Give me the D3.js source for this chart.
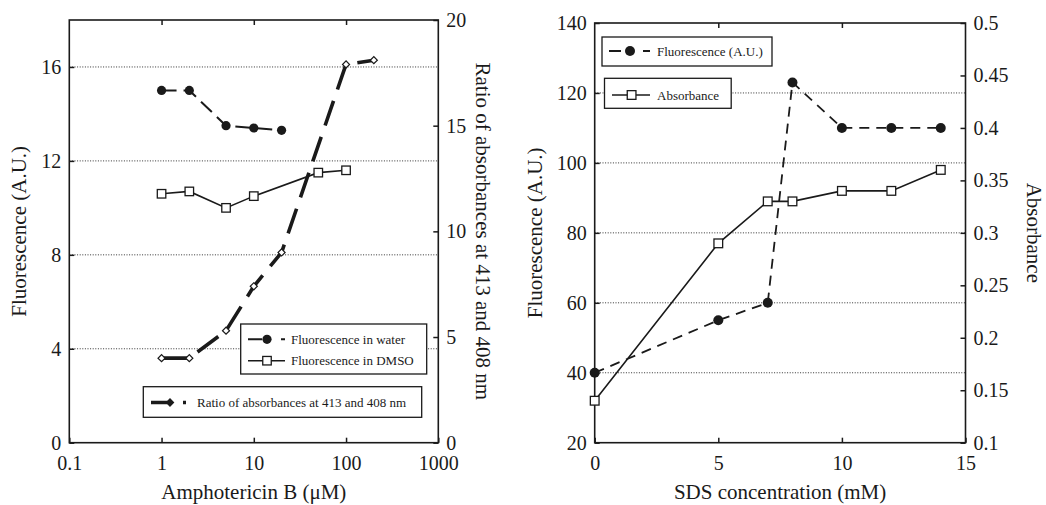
<!DOCTYPE html>
<html>
<head>
<meta charset="utf-8">
<script src="https://cdn.jsdelivr.net/npm/d3@7"></script>
</head>
<body style="margin:0">
<script>

// left panel: amphotericin B
const ampWaterConc = [1, 2, 5, 10, 20];
const ampWaterFluor = [15.0, 15.0, 13.5, 13.4, 13.3];
const ampDmsoConc = [1, 2, 5, 10, 50, 100];
const ampDmsoFluor = [10.6, 10.7, 10.0, 10.5, 11.5, 11.6];
const ampRatioConc = [1, 2, 5, 10, 20, 100, 200];
const ampRatio = [4.0, 4.0, 5.3, 7.4, 9.0, 17.9, 18.1];
const ampXTicks = [0.1, 1, 10, 100, 1000];
const ampYTicks = [0, 4, 8, 12, 16];
const ampY2Ticks = [0, 5, 10, 15, 20];

// right panel: SDS
const sdsConc = [0, 5, 7, 8, 10, 12, 14];
const sdsFluor = [40, 55, 60, 123, 110, 110, 110];
const sdsAbs = [0.14, 0.29, 0.33, 0.33, 0.34, 0.34, 0.36];
const sdsXTicks = [0, 5, 10, 15];
const sdsYTicks = [20, 40, 60, 80, 100, 120, 140];
const sdsY2Ticks = [0.1, 0.15, 0.2, 0.25, 0.3, 0.35, 0.4, 0.45, 0.5];

const ink = "#1a1a1a";
const fmt = d3.format("~g");

const svg = d3.select("body").append("svg")
    .attr("width", 1046)
    .attr("height", 505)
    .style("display", "block");

// draws grid, ticks, labels and the box round a panel
function drawFrame(x, yL, yR, o) {
    const [x0, x1] = x.range();
    const [b, t] = yL.range();
    let g = svg.append("g");

    g.selectAll(".grid")
        .data(o.grid)
        .join("line")
        .attr("class", "grid")
        .attr("x1", x0).attr("x2", x1)
        .attr("y1", d => yL(d)).attr("y2", d => yL(d))
        .attr("stroke", "#333")
        .attr("stroke-width", 1)
        .attr("stroke-dasharray", "1,1.6");

    g.append("g").attr("class", "axis")
        .attr("transform", `translate(0,${b})`)
        .call(d3.axisBottom(x).tickValues(o.xTicks).tickSize(-5).tickPadding(13).tickFormat(fmt))
        .call(a => a.select(".domain").remove());

    g.append("g").attr("class", "axis")
        .attr("transform", `translate(0,${t})`)
        .call(d3.axisTop(x).tickValues(o.topTicks).tickSize(-5).tickFormat(""))
        .call(a => a.select(".domain").remove());

    g.append("g").attr("class", "axis")
        .attr("transform", `translate(${x0},0)`)
        .call(d3.axisLeft(yL).tickValues(o.yTicks).tickSize(-5).tickPadding(8).tickFormat(fmt))
        .call(a => a.select(".domain").remove());

    g.append("g").attr("class", "axis")
        .attr("transform", `translate(${x1},0)`)
        .call(d3.axisRight(yR).tickValues(o.y2Ticks).tickSize(-5).tickPadding(8).tickFormat(fmt))
        .call(a => a.select(".domain").remove());

    g.selectAll(".axis")
        .attr("font-family", null)
        .attr("font-size", null);
    g.selectAll(".axis text").style("font-size", "20px").attr("fill", ink);
    g.selectAll(".axis line").attr("stroke", ink).attr("stroke-width", 1.5);

    g.append("rect")
        .attr("x", x0).attr("y", t)
        .attr("width", x1 - x0).attr("height", b - t)
        .attr("fill", "none")
        .attr("stroke", ink)
        .attr("stroke-width", 1.6);

    // axis titles
    g.append("text").attr("class", "title")
        .attr("x", (x0 + x1) / 2).attr("y", 499)
        .attr("text-anchor", "middle")
        .text(o.xTitle);

    g.append("text").attr("class", "title")
        .attr("transform", `translate(${o.yTitleX},${(b + t) / 2}) rotate(-90)`)
        .attr("text-anchor", "middle")
        .text(o.yTitle);

    g.append("text").attr("class", "title")
        .attr("transform", `translate(${o.y2TitleX},${(b + t) / 2}) rotate(90)`)
        .attr("text-anchor", "middle")
        .text(o.y2Title);

    g.selectAll(".title").style("font-size", "21px").attr("fill", ink);
}

function drawSeries(xs, ys, x, y, style) {
    let pts = d3.zip(xs, ys);
    let line = d3.line().x(d => x(d[0])).y(d => y(d[1]));

    svg.append("path")
        .datum(pts)
        .attr("d", line)
        .attr("fill", "none")
        .attr("stroke", ink)
        .attr("stroke-width", style.width)
        .attr("stroke-dasharray", style.dash || null);

    drawMarkers(pts.map(d => [x(d[0]), y(d[1])]), style);
}

function drawMarkers(pts, style) {
    let g = svg.append("g");
    if (style.marker === "circle") {
        g.selectAll("circle").data(pts).join("circle")
            .attr("cx", d => d[0]).attr("cy", d => d[1])
            .attr("r", style.size)
            .attr("fill", ink);
    } else if (style.marker === "square") {
        g.selectAll("rect").data(pts).join("rect")
            .attr("x", d => d[0] - style.size / 2).attr("y", d => d[1] - style.size / 2)
            .attr("width", style.size).attr("height", style.size)
            .attr("fill", "#fff").attr("stroke", ink).attr("stroke-width", 1.3);
    } else {
        g.selectAll("path").data(pts).join("path")
            .attr("d", d3.symbol(d3.symbolSquare, style.size * style.size))
            .attr("transform", d => `translate(${d[0]},${d[1]}) rotate(45)`)
            .attr("fill", style.fill || "#fff").attr("stroke", ink).attr("stroke-width", 1.2);
    }
}

function legendBox(x0, y0, x1, y1) {
    svg.append("rect")
        .attr("x", x0).attr("y", y0)
        .attr("width", x1 - x0).attr("height", y1 - y0)
        .attr("fill", "#fff")
        .attr("stroke", ink)
        .attr("stroke-width", 1.3);
}

function legendRow(lx0, lx1, mx, cy, tx, label, style) {
    svg.append("line")
        .attr("x1", lx0).attr("x2", lx1)
        .attr("y1", cy).attr("y2", cy)
        .attr("stroke", ink)
        .attr("stroke-width", style.width)
        .attr("stroke-dasharray", style.legendDash || null);
    drawMarkers([[mx, cy]], style);
    svg.append("text")
        .attr("x", tx).attr("y", cy + 4.5)
        .attr("fill", ink)
        .style("font-size", "13px")
        .text(label);
}

/* ---------- left panel ---------- */
const xAmp = d3.scaleLog().domain([0.1, 1000]).range([69.3, 438.3]);
const yAmp = d3.scaleLinear().domain([0, 18]).range([442.7, 20]);
const yRatio = d3.scaleLinear().domain([0, 20]).range([442.7, 20]);

drawFrame(xAmp, yAmp, yRatio, {
    grid: [4, 8, 12, 16],
    xTicks: ampXTicks,
    topTicks: [1, 10, 100],
    yTicks: ampYTicks,
    y2Ticks: ampY2Ticks,
    xTitle: "Amphotericin B (\u03bcM)",
    yTitle: "Fluorescence (A.U.)",
    y2Title: "Ratio of absorbances at 413 and 408 nm",
    yTitleX: 26,
    y2TitleX: 476
});

const waterStyle = {width: 2, dash: "15,7", marker: "circle", size: 4.6, legendDash: "14,19,4,100"};
const dmsoStyle = {width: 1.6, marker: "square", size: 8.5};
const ratioStyle = {width: 3.6, dash: "26,12", marker: "diamond", size: 5, legendDash: "19,13,3,100"};

drawSeries(ampWaterConc, ampWaterFluor, xAmp, yAmp, waterStyle);
drawSeries(ampDmsoConc, ampDmsoFluor, xAmp, yAmp, dmsoStyle);
drawSeries(ampRatioConc, ampRatio, xAmp, yRatio, ratioStyle);

legendBox(240.7, 324, 426.7, 374);
legendRow(248, 290, 267, 339.3, 291, "Fluorescence in water", waterStyle);
legendRow(248, 285, 267, 360.7, 291, "Fluorescence in DMSO", dmsoStyle);
legendBox(143.3, 386.7, 421.7, 417.3);
legendRow(151, 187, 170, 402.5, 197, "Ratio of absorbances at 413 and 408 nm",
    Object.assign({}, ratioStyle, {fill: ink}));

/* ---------- right panel ---------- */
const xSds = d3.scaleLinear().domain([0, 15]).range([594.7, 965.5]);
const yFluor = d3.scaleLinear().domain([20, 140]).range([442.7, 23]);
const yAbs = d3.scaleLinear().domain([0.1, 0.5]).range([442.7, 23]);

drawFrame(xSds, yFluor, yAbs, {
    grid: [40, 60, 80, 100, 120],
    xTicks: sdsXTicks,
    topTicks: [5, 10],
    yTicks: sdsYTicks,
    y2Ticks: sdsY2Ticks,
    xTitle: "SDS concentration (mM)",
    yTitle: "Fluorescence (A.U.)",
    y2Title: "Absorbance",
    yTitleX: 542,
    y2TitleX: 1027
});

const sdsFluorStyle = {width: 1.8, dash: "10,7", marker: "circle", size: 5, legendDash: "12,22,7,100"};
const sdsAbsStyle = {width: 1.6, marker: "square", size: 8.7};

drawSeries(sdsConc, sdsAbs, xSds, yAbs, sdsAbsStyle);
drawSeries(sdsConc, sdsFluor, xSds, yFluor, sdsFluorStyle);

legendBox(602, 37, 772, 66);
legendRow(609, 651, 630, 51, 657, "Fluorescence (A.U.)", sdsFluorStyle);
legendBox(604.5, 78.3, 731.2, 108.3);
legendRow(612, 650, 631.6, 95, 657, "Absorbance", sdsAbsStyle);

// serif on every label
svg.selectAll("text")
    .attr("font-family", "Liberation Serif")
    .style("font-family", '"Liberation Serif"');

</script>
</body>
</html>
